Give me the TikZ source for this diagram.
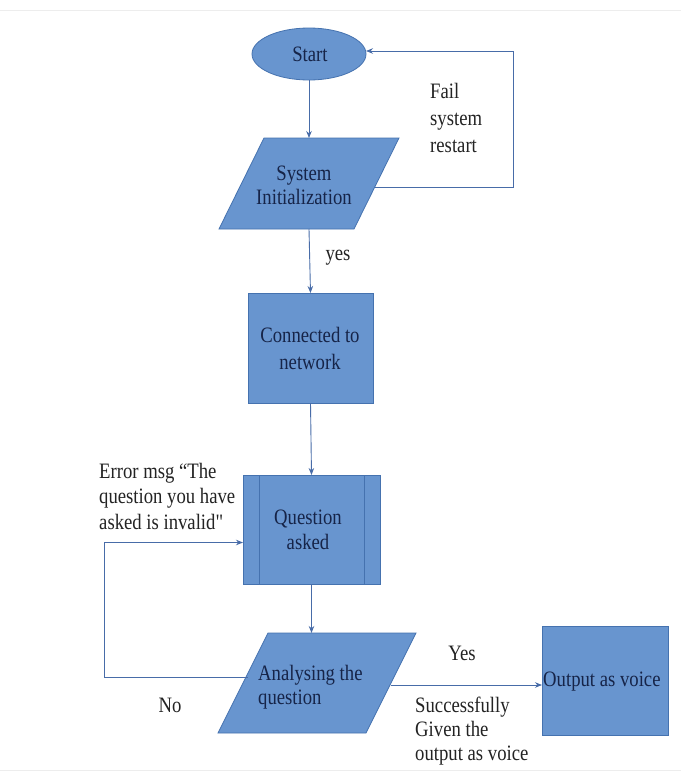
\documentclass[tikz,border=0pt]{standalone}
\usepackage{fontspec}
\setmainfont{Liberation Serif}[FakeStretch=0.85]
\newfontfamily\qfont{Liberation Serif}[FakeStretch=0.85, Ligatures=TeXOff]
\usetikzlibrary{arrows.meta,shapes.geometric}
\definecolor{boxfill}{RGB}{104,149,207}
\definecolor{boxline}{RGB}{69,114,175}
\definecolor{conline}{RGB}{72,108,168}
\definecolor{boxtext}{RGB}{22,36,72}
\definecolor{labtext}{RGB}{35,35,35}
\begin{document}
\begin{tikzpicture}[x=1pt,y=-1pt,
  every node/.style={font=\fontsize{22}{26}\selectfont},
  box/.style={draw=boxline, line width=0.8pt, fill=boxfill, inner sep=0pt, outer sep=0pt},
  holder/.style={draw=none, rectangle, inner sep=0pt, outer sep=0pt},
  paraline/.style={draw=boxline, line width=0.8pt, fill=boxfill},
  intext/.style={text=boxtext, inner sep=0pt},
  lab/.style={text=labtext, inner sep=0pt, align=left},
  conn/.style={draw=conline, line width=0.9pt, -{Stealth[length=7pt,width=5.5pt]}}
]
\useasboundingbox (0,0) rectangle (681,772);
\fill[white] (0,0) rectangle (681,772);
\draw[black!7, line width=0.8pt] (0,10) -- (681,10);
\draw[black!7, line width=0.8pt] (0,770) -- (681,770);

% shapes
\node[box, ellipse, minimum width=114, minimum height=52] (start) at (309,54) {};
\node[holder, minimum width=180, minimum height=91] (sys) at (309,183.5) {};
\path[paraline] (sys.south west) -- ([xshift=-45pt]sys.south east) -- (sys.north east) -- ([xshift=45pt]sys.north west) -- cycle;
\node[box, rectangle, minimum width=125, minimum height=110] (conn) at (310.5,348) {};
\node[box, rectangle, minimum width=137, minimum height=109] (qa) at (311.5,529.5) {};
\draw[boxline, line width=0.8pt] ([xshift=16pt]qa.north west) -- ([xshift=16pt]qa.south west);
\draw[boxline, line width=0.8pt] ([xshift=-16pt]qa.north east) -- ([xshift=-16pt]qa.south east);
\node[holder, minimum width=198, minimum height=100] (ana) at (317,683) {};
\path[paraline] (ana.south west) -- ([xshift=-50pt]ana.south east) -- (ana.north east) -- ([xshift=50pt]ana.north west) -- cycle;
\node[box, rectangle, minimum width=126, minimum height=109] (out) at (605,680.5) {};

% texts inside shapes
\node[intext] (startT) at (310,54) {Start};
\node[intext, align=center, font=\fontsize{22}{24}\selectfont] (sysT) at (304,185) {System\\Initialization};
\node[intext, align=center, font=\fontsize{22}{27}\selectfont] (connT) at (310,348) {Connected to\\network};
\node[intext, align=center, font=\fontsize{22}{25}\selectfont] (qaT) at (308,530) {Question\\asked};
\node[intext, align=left, anchor=west, font=\fontsize{22}{24}\selectfont] (anaT) at (258,687) {Analysing the\\question};
\node[intext, anchor=west] (outT) at (543,682) {Output as voice};

% connectors
\draw[conn] (start.south) -- (sys.north);
\draw[conn] (sys.south) -- (conn.north);
\draw[conn] (conn.south) -- (qa.north);
\draw[conn] (qa.south) -- (qa.south |- ana.north);
\coordinate (rr) at (513,0);
\coordinate (s1) at ([xshift=-24pt,yshift=-3.5pt]sys.east);
\coordinate (s2) at ([yshift=3pt]start.east);
\draw[conn] (s1) -- (s1 -| rr) |- (s2);
\coordinate (ll) at (104,0);
\coordinate (a1) at ([xshift=30pt,yshift=6pt]ana.west);
\coordinate (q1) at ([yshift=-13pt]qa.west);
\draw[conn] (a1) -- (a1 -| ll) |- (q1);
\coordinate (a2) at ([xshift=-25pt,yshift=-2pt]ana.east);
\draw[conn] (a2) -- (a2 -| out.west);

% labels
\node[lab, anchor=west, font=\fontsize{22}{27}\selectfont] (fail) at (430,118) {Fail\\system\\restart};
\node[lab] (yes) at (338,258) {yes};
\node[lab, anchor=west, font=\fontsize{22}{25.5}\selectfont] (err) at (99,496) {Error msg “The\\question you have\\asked is invalid{\qfont"}};
\node[lab] (no) at (170,705) {No};
\node[lab] (Yes) at (462,653) {Yes};
\node[lab, anchor=west, font=\fontsize{22}{24}\selectfont] (succ) at (415,731) {Successfully\\Given the\\output as voice};
\end{tikzpicture}
\end{document}
